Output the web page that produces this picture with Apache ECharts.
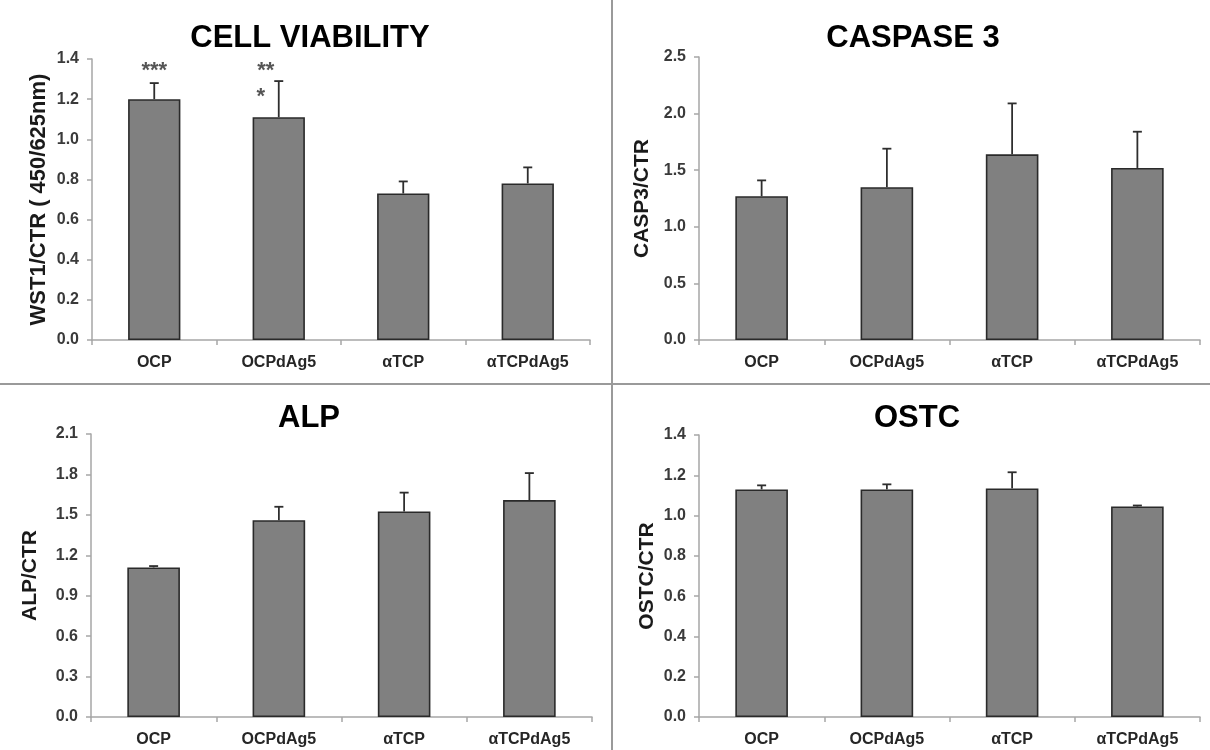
<!DOCTYPE html>
<html>
<head>
<meta charset="utf-8">
<script src="https://cdn.jsdelivr.net/npm/echarts@6/dist/echarts.min.js"></script>
<style>html,body{margin:0;padding:0;background:#fff}#c{width:1210px;height:750px}</style>
</head>
<body>
<div id="c"></div>
<script>
// ---- data ----
const categories = ['OCP', 'OCPdAg5', 'αTCP', 'αTCPdAg5'];

const viabilityValues = [1.20, 1.11, 0.73, 0.78];
const viabilityErrors = [0.08, 0.18, 0.06, 0.08];

const caspaseValues = [1.27, 1.35, 1.64, 1.52];
const caspaseErrors = [0.14, 0.34, 0.45, 0.32];

const alpValues = [1.11, 1.46, 1.525, 1.61];
const alpErrors = [0.01, 0.10, 0.14, 0.20];

const ostcValues = [1.13, 1.13, 1.135, 1.045];
const ostcErrors = [0.02, 0.025, 0.08, 0.005];

// significance marks: [category index, y value, text]
const viabilityStars = [[0, 1.365, '***'], [1, 1.365, '**'], [1, 1.236, '*']];

const panelTitles = ['CELL VIABILITY', 'CASPASE 3', 'ALP', 'OSTC'];
const axisNames = ['WST1/CTR ( 450/625nm)', 'CASP3/CTR', 'ALP/CTR', 'OSTC/CTR'];
const yMax = [1.4, 2.5, 2.1, 1.4];
const yStep = [0.2, 0.5, 0.3, 0.2];

// ---- layout ----
const FONT = "'Liberation Sans', Arial, sans-serif";
const grids = [
  {left: 92, top: 59, width: 498, height: 281},
  {left: 699, top: 57, width: 501, height: 283},
  {left: 91, top: 434, width: 501, height: 283},
  {left: 699, top: 435, width: 501, height: 282}
];
const nameGaps = [42, 46, 50, 41];
const nameSizes = [22, 21, 21, 21];
const titlePos = [[310, 38], [913, 38], [309, 418], [917, 418]];
const allValues = [viabilityValues, caspaseValues, alpValues, ostcValues];
const allErrors = [viabilityErrors, caspaseErrors, alpErrors, ostcErrors];

const axisColor = '#a6a6a6';

const xAxes = grids.map((g, i) => ({
  type: 'category', gridIndex: i, data: categories,
  axisLine: {lineStyle: {color: axisColor, width: 1.5}},
  axisTick: {show: true, length: 5, inside: false, alignWithLabel: false, lineStyle: {color: axisColor, width: 1.5}},
  axisLabel: {fontFamily: FONT, fontWeight: 'bold', fontSize: 16, color: '#262626', margin: 15}
}));
const yAxes = grids.map((g, i) => ({
  type: 'value', gridIndex: i, min: 0, max: yMax[i], interval: yStep[i],
  name: axisNames[i], nameLocation: 'middle', nameGap: nameGaps[i], nameRotate: 90,
  nameTextStyle: {fontFamily: FONT, fontWeight: 'bold', fontSize: nameSizes[i], color: '#1a1a1a'},
  axisLine: {show: true, lineStyle: {color: axisColor, width: 1.5}},
  axisTick: {show: true, length: 5, lineStyle: {color: axisColor, width: 1.5}},
  splitLine: {show: false},
  axisLabel: {fontFamily: FONT, fontWeight: 'bold', fontSize: 16, color: '#3a3a3a', margin: 13,
    formatter: v => v.toFixed(1)}
}));

const series = [];
allValues.forEach((vals, i) => {
  series.push({
    type: 'bar', xAxisIndex: i, yAxisIndex: i, data: vals, barWidth: '42%',
    itemStyle: {color: '#808080', borderColor: '#2a2a2a', borderWidth: 1.6},
    silent: true, animation: false
  });
  const errData = vals.map((v, k) => [k, v, v + allErrors[i][k]]);
  series.push({
    type: 'custom', xAxisIndex: i, yAxisIndex: i, data: errData, animation: false, silent: true,
    renderItem: (params, api) => {
      const x = api.value(0);
      const p0 = api.coord([x, api.value(1)]);
      const p1 = api.coord([x, api.value(2)]);
      const hw = 4.5;
      return {
        type: 'group',
        children: [
          {type: 'line', shape: {x1: p0[0], y1: p0[1], x2: p1[0], y2: p1[1]}, style: {stroke: '#2e2e2e', lineWidth: 1.8}},
          {type: 'line', shape: {x1: p1[0] - hw, y1: p1[1], x2: p1[0] + hw, y2: p1[1]}, style: {stroke: '#2e2e2e', lineWidth: 1.8}}
        ]
      };
    },
    z: 3
  });
});

// stars
const starOffsets = [[0, 0], [-13, 0], [-18, 0]];
series.push({
  type: 'scatter', xAxisIndex: 0, yAxisIndex: 0, symbolSize: 0, animation: false, silent: true,
  data: viabilityStars.map((s, k) => ({
    value: [s[0], s[1]],
    label: {show: true, formatter: s[2], position: 'inside', offset: [starOffsets[k][0], starOffsets[k][1] + 5],
      fontFamily: FONT, fontWeight: 'bold', fontSize: 22, color: '#2a2a2a'}
  }))
});

const graphics = [
  {type: 'line', shape: {x1: 612, y1: 0, x2: 612, y2: 750}, style: {stroke: '#9a9a9a', lineWidth: 2}},
  {type: 'line', shape: {x1: 0, y1: 384, x2: 1210, y2: 384}, style: {stroke: '#9a9a9a', lineWidth: 2}}
];
panelTitles.forEach((t, i) => {
  graphics.push({
    type: 'text', x: titlePos[i][0], y: titlePos[i][1],
    style: {text: t, fontFamily: FONT, fontWeight: 'bold', fontSize: 31, fill: '#000',
      textAlign: 'center', textVerticalAlign: 'middle'}
  });
});

const chart = echarts.init(document.getElementById('c'), null, {renderer: 'canvas'});
chart.setOption({
  backgroundColor: '#fff',
  animation: false,
  grid: grids,
  xAxis: xAxes,
  yAxis: yAxes,
  series: series,
  graphic: graphics
});
</script>
</body>
</html>
